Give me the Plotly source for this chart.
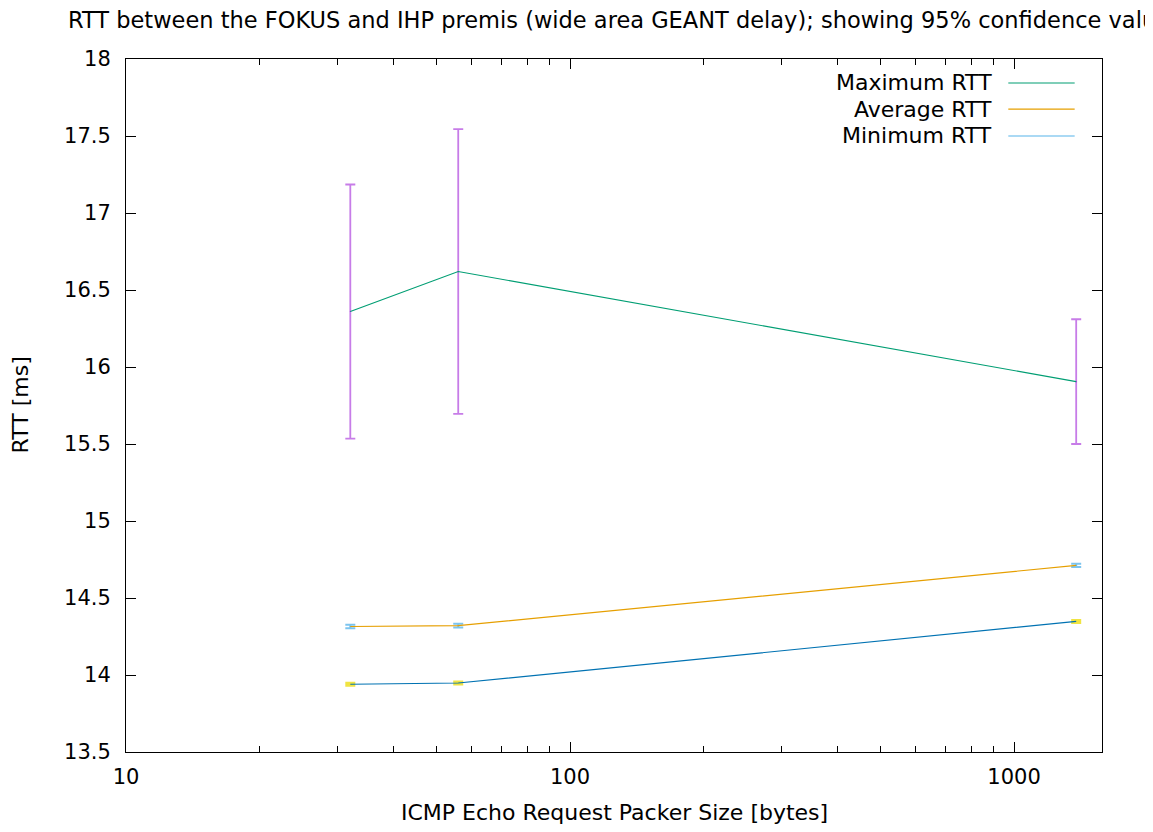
import plotly.graph_objects as go

sizes = [32, 56, 1380]
max_rtt = [16.36, 16.62, 15.905]
max_lo = [15.535, 15.695, 15.5]
max_hi = [17.185, 17.545, 16.31]
avg_rtt = [14.315, 14.32, 14.712]
avg_err = [0.012, 0.012, 0.01]
min_rtt = [13.94, 13.948, 14.348]
min_err = [0.008, 0.008, 0.008]

series_names = ["Maximum RTT", "Average RTT", "Minimum RTT"]
line_colors = ["#009e73", "#e69f00", "#0072b2"]
err_colors = ["#9400d3", "#56b4e9", "#f0e442"]
legend_line_colors = ["#009e73", "#e69f00", "#56b4e9"]

FONT = "DejaVu Sans"
fig = go.Figure()

# error bars
fig.add_trace(go.Scatter(
    x=sizes, y=max_rtt, mode="markers", showlegend=False,
    marker=dict(size=1, color=err_colors[0]),
    error_y=dict(type="data", symmetric=False,
                 array=[h - m for h, m in zip(max_hi, max_rtt)],
                 arrayminus=[m - l for l, m in zip(max_lo, max_rtt)],
                 color="#c77ce8", thickness=1.8, width=5)))
fig.add_trace(go.Scatter(
    x=sizes, y=avg_rtt, mode="markers", showlegend=False,
    marker=dict(size=1, color=err_colors[1]),
    error_y=dict(type="data", array=avg_err, color="#7cc4ee", thickness=2, width=5)))
fig.add_trace(go.Scatter(
    x=sizes, y=min_rtt, mode="markers", showlegend=False,
    marker=dict(size=1, color=err_colors[2]),
    error_y=dict(type="data", array=min_err, color="#f0e442", thickness=2.5, width=5)))

# lines
for vals, c in zip([max_rtt, avg_rtt, min_rtt], line_colors):
    fig.add_trace(go.Scatter(x=sizes, y=vals, mode="lines", showlegend=False,
                             line=dict(color=c, width=1.2)))

# custom legend (text left of sample line, gnuplot style)
leg_y = [0.9654, 0.9278, 0.8889]
for name, c, yy in zip(series_names, legend_line_colors, leg_y):
    fig.add_annotation(xref="paper", yref="paper", x=0.889, y=yy, text=name,
                       showarrow=False, xanchor="right", yanchor="middle",
                       font=dict(family=FONT, size=22, color="black"))
    fig.add_shape(type="line", xref="paper", yref="paper", x0=0.904, x1=0.972,
                  y0=yy, y1=yy, line=dict(color=c, width=1.2))

# axis titles as annotations (fixed positions)
fig.add_annotation(xref="paper", yref="paper", x=0.5, y=-0.0866,
                   text="ICMP Echo Request Packer Size [bytes]", showarrow=False,
                   xanchor="center", yanchor="middle",
                   font=dict(family=FONT, size=22, color="black"))
fig.add_annotation(xref="paper", yref="paper", x=-0.1086, y=0.5,
                   text="RTT [ms]", showarrow=False, textangle=-90,
                   xanchor="center", yanchor="middle",
                   font=dict(family=FONT, size=22, color="black"))

minor_x = [20, 30, 40, 50, 60, 70, 80, 90, 200, 300, 400, 500, 600, 700, 800, 900]

W, H = 1137, 816
fig.update_layout(
    width=W, height=H,
    margin=dict(l=118, r=43, t=51, b=72, autoexpand=False),
    paper_bgcolor="white", plot_bgcolor="white",
    font=dict(family=FONT, size=21, color="black"),
    title=dict(text="RTT between the FOKUS and IHP premis (wide area GEANT delay); showing 95% confidence values",
               x=60 / W, xanchor="left", y=1 - 12 / H, yanchor="middle",
               font=dict(family=FONT, size=22.5, color="black")),
    xaxis=dict(type="log", range=[1, 3.198], tickvals=[10, 100, 1000],
               ticktext=["10", "100", "1000"], ticks="inside", ticklen=10,
               tickcolor="black", showline=True, linecolor="black", linewidth=1,
               mirror="allticks", showgrid=False, zeroline=False,
               ticklabelstandoff=6, automargin=False,
               minor=dict(tickvals=minor_x, ticks="inside", ticklen=6,
                          tickcolor="black", showgrid=False)),
    yaxis=dict(range=[13.5, 18], dtick=0.5, tick0=13.5, ticks="inside", ticklen=10,
               tickcolor="black", showline=True, linecolor="black", linewidth=1,
               mirror="allticks", showgrid=False, zeroline=False,
               tickformat="~g", ticklabelstandoff=10, automargin=False),
)

fig.write_html("out.html")
